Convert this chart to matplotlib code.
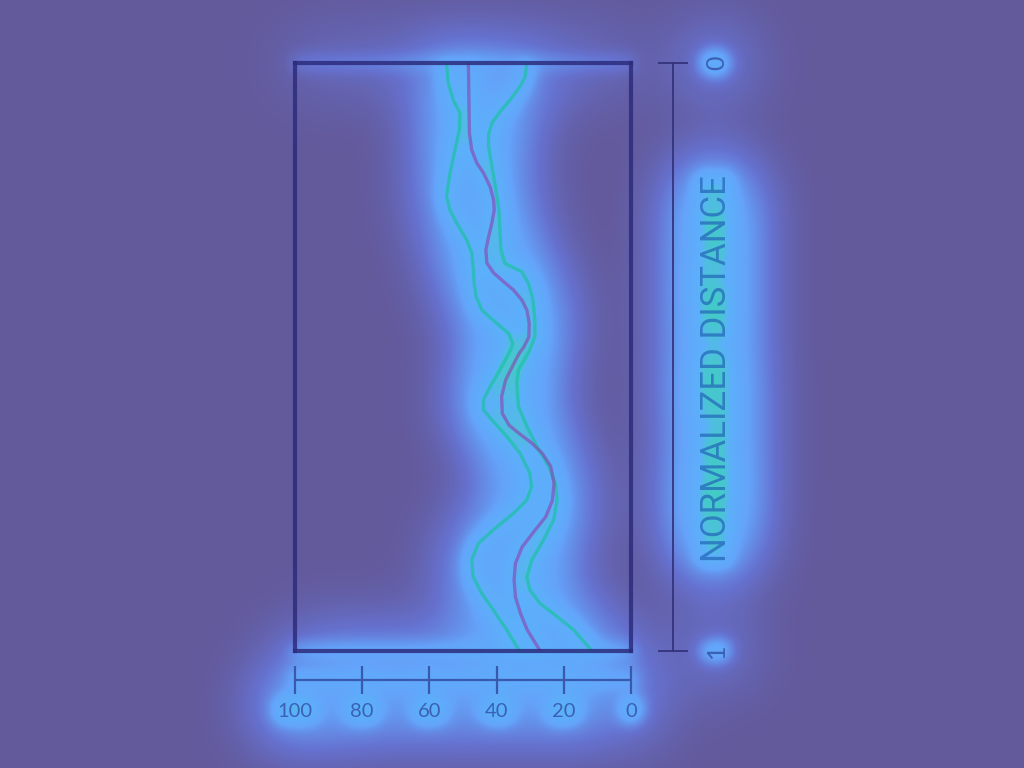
import matplotlib
matplotlib.use("Agg")
import numpy as np
import matplotlib.pyplot as plt
import matplotlib.patheffects as pe
from matplotlib.colors import LinearSegmentedColormap

W, H, DPI = 1024, 768, 100
BG = "#635a9c"

# normalized distance (0 = top, 1 = bottom) and percent values
mid_d = [0.0, 0.119, 0.148, 0.170, 0.187, 0.211, 0.233, 0.250, 0.272, 0.296, 0.318,
         0.340, 0.357, 0.372, 0.386, 0.403, 0.420, 0.442, 0.466, 0.483, 0.494, 0.516,
         0.539, 0.567, 0.596, 0.616, 0.630, 0.647, 0.664, 0.686, 0.715, 0.744, 0.772,
         0.797, 0.823, 0.851, 0.879, 0.908, 0.936, 0.964, 1.0]
mid_v = [48.4, 48.1, 47.4, 45.9, 43.9, 41.9, 40.9, 40.7, 41.4, 42.4, 43.2,
         42.9, 40.9, 37.9, 35.0, 32.5, 31.0, 30.3, 30.4, 31.9, 33.3, 35.3,
         37.3, 38.5, 38.3, 36.3, 33.3, 29.4, 26.4, 23.9, 22.9, 23.4, 25.4,
         28.9, 32.4, 34.4, 34.8, 34.4, 32.9, 30.9, 27.0]

upper_d = [0.0, 0.034, 0.063, 0.085, 0.114, 0.148, 0.188, 0.227, 0.250, 0.272, 0.301,
           0.323, 0.352, 0.374, 0.397, 0.420, 0.443, 0.460, 0.477, 0.488, 0.522, 0.551,
           0.573, 0.590, 0.607, 0.635, 0.664, 0.698, 0.721, 0.743, 0.766, 0.794, 0.817,
           0.845, 0.874, 0.902, 0.930, 0.964, 1.0]
upper_v = [54.9, 54.4, 52.9, 50.9, 51.1, 52.4, 53.9, 54.9, 53.9, 51.9, 48.9,
           47.4, 46.9, 46.7, 46.1, 44.4, 39.9, 36.4, 35.2, 35.8, 39.0, 42.0,
           43.9, 43.9, 41.4, 37.0, 33.0, 30.1, 29.6, 31.0, 35.0, 41.0, 45.4,
           47.4, 47.0, 44.4, 41.0, 37.0, 33.2]

lower_d = [0.0, 0.023, 0.040, 0.063, 0.083, 0.102, 0.122, 0.142, 0.176, 0.216, 0.250,
           0.284, 0.318, 0.341, 0.348, 0.355, 0.375, 0.403, 0.437, 0.465, 0.490, 0.522,
           0.544, 0.584, 0.618, 0.652, 0.686, 0.715, 0.743, 0.777, 0.811, 0.845, 0.874,
           0.896, 0.919, 0.941, 0.964, 1.0]
lower_v = [31.0, 31.5, 33.0, 36.0, 39.0, 41.4, 42.4, 42.4, 41.4, 40.2, 39.3,
           39.0, 38.7, 37.5, 35.0, 32.5, 30.5, 29.2, 28.6, 28.6, 30.3, 33.5,
           34.0, 33.5, 31.0, 28.0, 24.5, 22.5, 22.0, 23.0, 26.0, 29.5, 31.0,
           30.1, 27.1, 22.1, 17.1, 11.6]

x_ticks = [100, 80, 60, 40, 20, 0]
y_ticks = [0, 1]
y_label = "NORMALIZED DISTANCE"

BOX = [295 / W, 1 - 651 / H, 336 / W, 588 / H]

glow_cmap = LinearSegmentedColormap.from_list(
    "glow", [(0.0, BG), (0.3, "#6672d0"), (0.62, "#64a4fa"),
             (0.88, "#5cb0fa"), (1.0, "#34dca8")])


def draw_chart(fig, mask=False):
    if mask:
        green, purple = "white", "#bbbbbb"
        box_c = {"top": "#aaaaaa", "bottom": "white", "left": "black", "right": "black"}
        bax_c, rax_c, txt_c, lab_c = "white", "black", "white", "white"
        lw, txt_alpha, lab_alpha, line_alpha = 6, 1.0, 1.0, 1.0
        fx = [pe.withStroke(linewidth=5, foreground="white")]
        fx_big = [pe.withStroke(linewidth=4, foreground="white")]
    else:
        green, purple = "#14c49a", "#8a44b0"
        box_c = {k: "#2c2c7c" for k in ["top", "bottom", "left", "right"]}
        bax_c, rax_c, txt_c, lab_c = "#3a58ac", "#34347c", "#3858ac", "#2266b8"
        lw, txt_alpha, lab_alpha, line_alpha = 2.4, 0.9, 0.72, 0.62
        fx, fx_big = [], []

    ax = fig.add_axes(BOX)
    ax.set_facecolor("none")
    ax.set_xlim(100, 0)
    ax.set_ylim(1, 0)
    ax.set_xticks([])
    ax.set_yticks([])
    for side, sp in ax.spines.items():
        sp.set_linewidth(3)
        sp.set_color(box_c[side])
        if not mask:
            sp.set_alpha(0.85)

    for v, d, c in [(upper_v, upper_d, green), (lower_v, lower_d, green), (mid_v, mid_d, purple)]:
        ax.plot(v, d, color=c, lw=lw, alpha=line_alpha, solid_joinstyle="round",
                solid_capstyle="butt")

    # bottom scale
    sx = ax.secondary_xaxis(-0.05)
    sx.set_xticks(x_ticks)
    sx.spines["bottom"].set_color(bax_c)
    sx.spines["bottom"].set_linewidth(1.6 if not mask else 3)
    sx.tick_params(direction="inout", length=20, width=1.6, color=bax_c,
                   labelcolor=txt_c, labelsize=14.5, pad=6)
    for t in sx.get_xticklabels():
        t.set_fontfamily("Lato")
        t.set_alpha(txt_alpha)
        t.set_path_effects(fx)

    # right scale
    sy = ax.secondary_yaxis((673 - 295) / 336)
    sy.set_yticks(y_ticks)
    sy.spines["right"].set_color(rax_c)
    sy.spines["right"].set_linewidth(1.3)
    sy.tick_params(direction="inout", length=22, width=1.3, color=rax_c,
                   labelcolor=txt_c, labelsize=18, pad=12, labelrotation=90)
    for t in sy.get_yticklabels():
        t.set_fontfamily("Lato")
        t.set_alpha(txt_alpha)
        t.set_va("center")
        t.set_path_effects(fx)

    ax.text((717 - 295) / 336, 1 - (369 - 63) / 588, y_label, transform=ax.transAxes,
            rotation=90, ha="center", va="center", fontsize=25, family="Roboto",
            color=lab_c, alpha=lab_alpha, path_effects=fx_big)
    return ax


def blur(img, sigma):
    r = int(3 * sigma)
    k = np.exp(-0.5 * (np.arange(-r, r + 1) / sigma) ** 2)
    k /= k.sum()
    out = np.pad(img, r, mode="constant")
    out = np.apply_along_axis(lambda m: np.convolve(m, k, mode="valid"), 0, out)
    out = np.apply_along_axis(lambda m: np.convolve(m, k, mode="valid"), 1, out)
    return out


# pass 1: white-on-black mask of the glowing parts
mfig = plt.figure(figsize=(W / DPI, H / DPI), dpi=DPI, facecolor="black")
draw_chart(mfig, mask=True)
mfig.canvas.draw()
mask = np.asarray(mfig.canvas.buffer_rgba())[..., :3].astype(float).mean(axis=2) / 255
plt.close(mfig)

glow = 0.25 * blur(mask, 8) + 0.75 * blur(mask, 34)
glow = 1 - np.exp(-7.5 * glow)

# pass 2: glow image behind the real chart
fig = plt.figure(figsize=(W / DPI, H / DPI), dpi=DPI, facecolor=BG)
bg = fig.add_axes([0, 0, 1, 1])
bg.imshow(glow, cmap=glow_cmap, vmin=0, vmax=1, aspect="auto", interpolation="bilinear")
bg.axis("off")
draw_chart(fig)

fig.savefig("out.png", dpi=DPI, facecolor=BG)
